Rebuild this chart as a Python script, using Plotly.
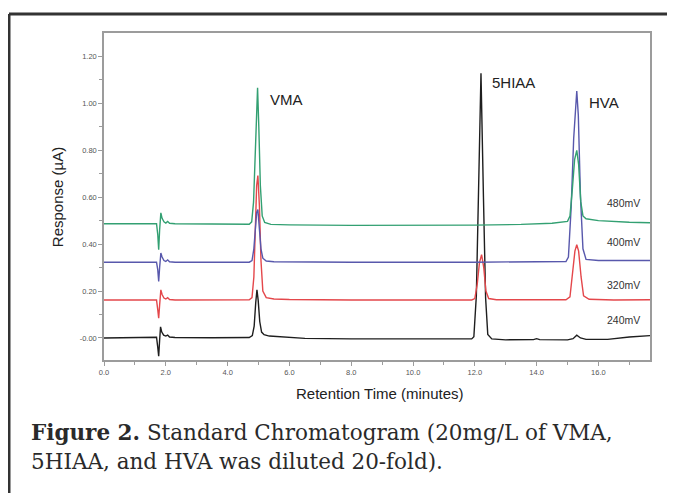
import plotly.graph_objects as go

WIDTH = 675
HEIGHT = 493

# retention time (minutes) and response (uA)
T_240 = [0.0, 1.60, 1.70, 1.74, 1.77, 1.80, 1.83, 1.87, 1.93, 2.00, 2.06, 2.12, 2.30, 3.50,
         4.70, 4.80, 4.86, 4.91, 4.95, 4.99, 5.04, 5.10, 5.18, 5.35, 5.70, 6.50, 8.00, 10.00,
         11.90, 11.97, 12.05, 12.12, 12.20, 12.28, 12.35, 12.42, 12.55, 13.00, 13.90, 14.00,
         14.10, 15.00, 15.18, 15.30, 15.42, 15.60, 16.30, 17.00, 17.67]
R_240 = [0.000, 0.000, 0.003, -0.040, -0.078, -0.010, 0.047, 0.025, 0.012, 0.008, 0.012, 0.004, 0.002, 0.001,
         0.002, 0.010, 0.050, 0.150, 0.205, 0.160, 0.070, 0.025, 0.014, 0.008, 0.004, -0.002, -0.004, -0.004,
         -0.004, 0.005, 0.180, 0.620, 1.128, 0.600, 0.170, 0.015, -0.004, -0.008, -0.007, -0.003,
         -0.007, -0.008, -0.003, 0.012, 0.000, -0.006, -0.006, 0.004, 0.010]

T_320 = [0.0, 1.60, 1.70, 1.74, 1.77, 1.80, 1.84, 1.88, 1.94, 2.00, 2.06, 2.12, 2.30, 4.70,
         4.79, 4.85, 4.90, 4.94, 4.98, 5.03, 5.08, 5.14, 5.25, 5.50, 6.00, 8.00, 11.90, 12.00,
         12.08, 12.15, 12.22, 12.29, 12.36, 12.45, 12.70, 14.00, 14.95, 15.08, 15.16, 15.24, 15.30,
         15.36, 15.44, 15.52, 15.70, 16.50, 17.67]
R_320 = [0.162, 0.162, 0.162, 0.120, 0.084, 0.140, 0.205, 0.185, 0.170, 0.166, 0.172, 0.164, 0.162, 0.163,
         0.172, 0.260, 0.480, 0.650, 0.692, 0.560, 0.330, 0.200, 0.172, 0.166, 0.164, 0.162, 0.162, 0.168,
         0.230, 0.320, 0.355, 0.300, 0.200, 0.168, 0.163, 0.162, 0.163, 0.175, 0.280, 0.370, 0.397,
         0.370, 0.260, 0.180, 0.165, 0.162, 0.163]

T_400 = [0.0, 1.60, 1.70, 1.74, 1.77, 1.80, 1.84, 1.88, 1.94, 2.00, 2.06, 2.12, 2.30, 4.70,
         4.79, 4.85, 4.90, 4.94, 4.98, 5.03, 5.08, 5.14, 5.25, 5.50, 6.00, 8.00, 12.00, 14.00,
         14.95, 15.03, 15.12, 15.20, 15.26, 15.30, 15.35, 15.42, 15.50, 15.60, 16.00, 17.00, 17.67]
R_400 = [0.323, 0.323, 0.323, 0.290, 0.241, 0.300, 0.362, 0.345, 0.330, 0.326, 0.333, 0.325, 0.323, 0.323,
         0.330, 0.380, 0.470, 0.535, 0.547, 0.470, 0.380, 0.340, 0.328, 0.325, 0.324, 0.323, 0.323, 0.324,
         0.326, 0.345, 0.560, 0.850, 1.000, 1.053, 0.950, 0.600, 0.380, 0.335, 0.330, 0.329, 0.330]

T_480 = [0.0, 1.60, 1.70, 1.74, 1.77, 1.80, 1.84, 1.88, 1.94, 2.00, 2.06, 2.12, 2.30, 4.70,
         4.78, 4.84, 4.90, 4.94, 4.97, 5.01, 5.06, 5.12, 5.20, 5.40, 6.00, 8.00, 10.00, 12.00,
         13.50, 14.50, 15.00, 15.08, 15.16, 15.23, 15.30, 15.36, 15.43, 15.50, 15.60, 16.00, 17.00, 17.67]
R_480 = [0.487, 0.487, 0.487, 0.440, 0.376, 0.460, 0.533, 0.510, 0.495, 0.490, 0.497, 0.489, 0.487, 0.485,
         0.495, 0.580, 0.800, 0.990, 1.067, 0.900, 0.650, 0.520, 0.492, 0.484, 0.482, 0.480, 0.480, 0.481,
         0.484, 0.489, 0.497, 0.520, 0.640, 0.760, 0.800, 0.740, 0.580, 0.520, 0.508, 0.500, 0.493, 0.491]

SERIES = [
    ("240mV", T_240, R_240, "#1e1e1e"),
    ("320mV", T_320, R_320, "#e4474b"),
    ("400mV", T_400, R_400, "#5858ac"),
    ("480mV", T_480, R_480, "#33a072"),
]

# potential labels at the right end of each trace
VOLT_LABELS = ["480mV", "400mV", "320mV", "240mV"]
VOLT_LABEL_Y = [0.577, 0.410, 0.226, 0.077]

PEAK_NAMES = ["VMA", "5HIAA", "HVA"]
PEAK_LABEL_X = [5.31, 12.49, 15.63]
PEAK_LABEL_Y = [1.017, 1.090, 1.004]

Y_TICKS = [0.0, 0.2, 0.4, 0.6, 0.8, 1.0, 1.2]
Y_TICK_TEXT = ["-0.00", "0.20", "0.40", "0.60", "0.80", "1.00", "1.20"]
X_TICKS = [0, 2, 4, 6, 8, 10, 12, 14, 16]
X_TICK_TEXT = ["0.0", "2.0", "4.0", "6.0", "8.0", "10.0", "12.0", "14.0", "16.0"]

CAPTION = ("<b>Figure 2.</b> Standard Chromatogram (20mg/L of VMA,",
           "5HIAA, and HVA was diluted 20-fold).")

AXIS_COLOR = "#9c9c9c"
TICK_FONT = dict(family="Liberation Sans, Arial", size=7.5, color="#555555")
LABEL_FONT = dict(family="Liberation Sans, Arial", size=15, color="#222222")


def create_figure():
    figure = go.Figure()

    for name, t, r, color in SERIES:
        figure.add_trace(
            go.Scatter(x=t, y=r, name=name, mode="lines",
                       line=dict(color=color, width=1.4), showlegend=False)
        )

    for text, x, y in zip(PEAK_NAMES, PEAK_LABEL_X, PEAK_LABEL_Y):
        figure.add_annotation(x=x, y=y, text=text, showarrow=False,
                              xanchor="left", yanchor="middle", font=LABEL_FONT)

    for text, y in zip(VOLT_LABELS, VOLT_LABEL_Y):
        figure.add_annotation(x=16.21, y=y, text=text, showarrow=False,
                              xanchor="left", yanchor="middle",
                              font=dict(family="Liberation Sans, Arial", size=10.5, color="#333333"))

    # axis titles
    figure.add_annotation(xref="paper", yref="paper", x=-0.086, y=0.498,
                          text="Response (µA)", textangle=-90, showarrow=False,
                          xanchor="center", yanchor="middle", font=LABEL_FONT)
    figure.add_annotation(xref="paper", yref="paper", x=0.5046, y=-0.101,
                          text="Retention Time (minutes)", showarrow=False,
                          xanchor="center", yanchor="middle", font=LABEL_FONT)

    # caption under the chart
    caption_font = dict(family="DejaVu Serif", size=21.5, color="#2a2a2a")
    figure.add_annotation(xref="paper", yref="paper", x=-0.137, y=-0.223,
                          text=CAPTION[0], showarrow=False,
                          xanchor="left", yanchor="middle", font=caption_font)
    figure.add_annotation(xref="paper", yref="paper", x=-0.137, y=-0.309,
                          text=CAPTION[1], showarrow=False,
                          xanchor="left", yanchor="middle", font=caption_font)

    # page frame (top and left rules)
    frame = dict(color="#333333", width=3)
    figure.add_shape(type="line", xref="paper", yref="paper",
                     x0=-0.174, x1=1.08, y0=1.058, y1=1.058, line=frame)
    figure.add_shape(type="line", xref="paper", yref="paper",
                     x0=-0.174, x1=-0.174, y0=1.058, y1=-0.45, line=frame)

    figure.update_xaxes(
        range=[0, 17.67], tickmode="array", tickvals=X_TICKS, ticktext=X_TICK_TEXT,
        showgrid=False, zeroline=False, showline=True, mirror=True,
        linecolor=AXIS_COLOR, linewidth=1.5, ticks="outside", ticklen=4,
        tickcolor=AXIS_COLOR, tickfont=TICK_FONT,
        minor=dict(tickmode="array", tickvals=[1, 3, 5, 7, 9, 11, 13, 15, 17],
                   ticks="outside", ticklen=3, tickcolor=AXIS_COLOR),
    )
    figure.update_yaxes(
        range=[-0.094, 1.30], tickmode="array", tickvals=Y_TICKS, ticktext=Y_TICK_TEXT,
        showgrid=False, zeroline=False, showline=True, mirror=True,
        linecolor=AXIS_COLOR, linewidth=1.5, ticks="outside", ticklen=4,
        tickcolor=AXIS_COLOR, tickfont=TICK_FONT,
        minor=dict(tickmode="array", tickvals=[0.1, 0.3, 0.5, 0.7, 0.9, 1.1],
                   ticks="outside", ticklen=3, tickcolor=AXIS_COLOR),
    )
    # the page body adds an 8px offset, so the margins are pulled in by 8px
    figure.update_layout(
        width=WIDTH, height=HEIGHT, autosize=False,
        margin=dict(l=96, r=33, t=25, b=141),
        paper_bgcolor="white", plot_bgcolor="white",
    )
    return figure


if __name__ == "__main__":
    fig = create_figure()
    fig.write_html("out.html")
